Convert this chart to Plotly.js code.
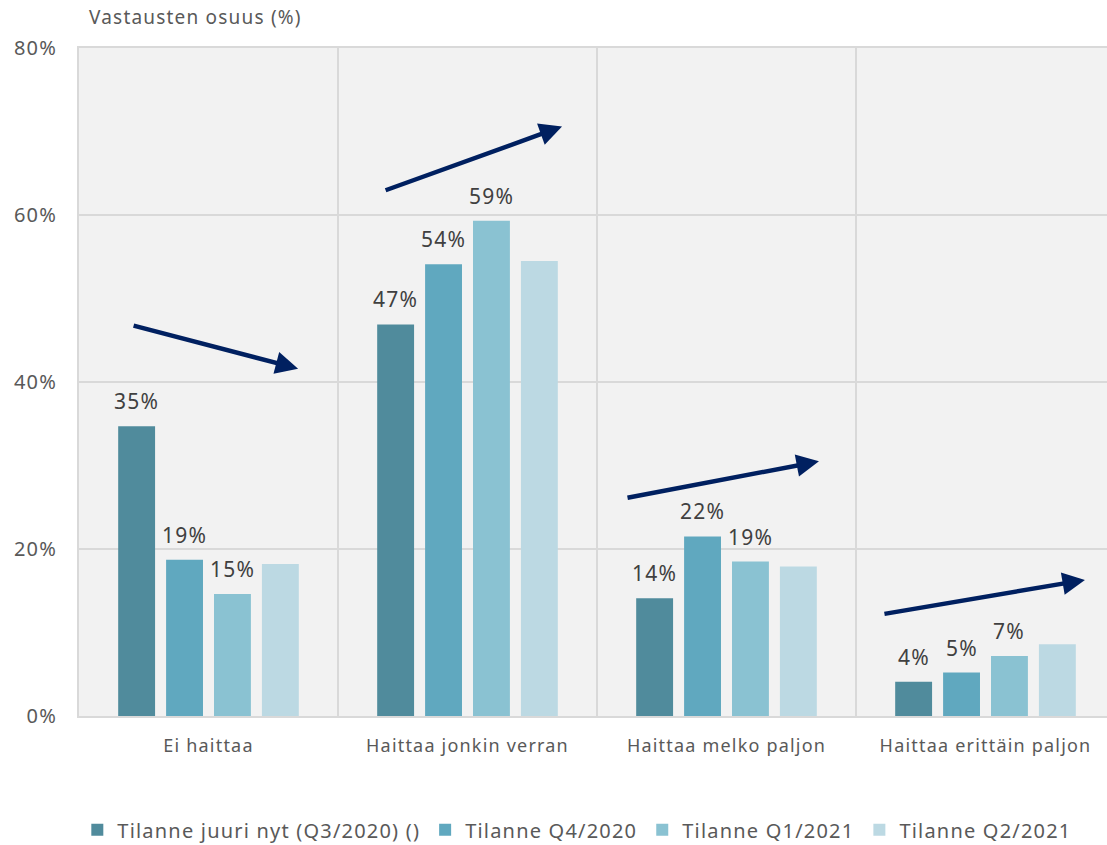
<!DOCTYPE html>
<html>
<head>
<meta charset="utf-8">
<script src="https://cdn.plot.ly/plotly-3.0.1.min.js"></script>
<style>
  html, body { margin: 0; padding: 0; overflow: hidden; background: #ffffff; }
  #chart { width: 1120px; height: 845px; }
  svg text { letter-spacing: 1.2px; }
</style>
</head>
<body>
<div id="chart"></div>
<script>
// ---- Data ----
var categories = ["Ei haittaa", "Haittaa jonkin verran", "Haittaa melko paljon", "Haittaa erittäin paljon"];
var seriesNames = ["Tilanne juuri nyt (Q3/2020) ()", "Tilanne Q4/2020", "Tilanne Q1/2021", "Tilanne Q2/2021"];
var q3_2020 = [34.7, 46.9, 14.1, 4.1];
var q4_2020 = [18.7, 54.1, 21.5, 5.2];
var q1_2021 = [14.6, 59.3, 18.5, 7.2];
var q2_2021 = [18.2, 54.5, 17.9, 8.6];
var labels_q3_2020 = ["35%", "47%", "14%", "4%"];
var labels_q4_2020 = ["19%", "54%", "22%", "5%"];
var labels_q1_2021 = ["15%", "59%", "19%", "7%"];
var labels_q2_2021 = ["", "", "", ""];
var yTickVals = [0, 20, 40, 60, 80];
var yTickText = ["0%", "20%", "40%", "60%", "80%"];
var yTitle = "Vastausten osuus (%)";

// ---- Styling ----
var colors = ["#508b9c", "#60a8bf", "#8ac2d2", "#bcd9e3"];
var FONT = "Noto Sans, Lato, sans-serif";
var BARGAP = 0.26;
var allValues = [q3_2020, q4_2020, q1_2021, q2_2021];
var allLabels = [labels_q3_2020, labels_q4_2020, labels_q1_2021, labels_q2_2021];

var traces = allValues.map(function (vals, i) {
  return {
    type: "bar",
    name: seriesNames[i],
    x: categories,
    y: vals,
    marker: { color: colors[i] },
    hoverinfo: "skip"
  };
});

// data labels above bars (positioned in data coordinates via axis scales)
var annotations = [];
var slot = (1 - BARGAP) / allValues.length;
allValues.forEach(function (vals, i) {
  vals.forEach(function (v, c) {
    if (!allLabels[i][c]) return;
    annotations.push({
      x: c + (i - (allValues.length - 1) / 2) * slot,
      y: v,
      xref: "x", yref: "y",
      text: allLabels[i][c],
      showarrow: false,
      yanchor: "bottom",
      yshift: 9,
      font: { family: FONT, size: 21, color: "#404040" }
    });
  });
});

// trend arrows (decorations)
var arrows = [
  { tail: [-0.295, 46.8], head: [0.346, 41.6] },
  { tail: [0.678, 62.9], head: [1.365, 70.6] },
  { tail: [1.612, 26.1], head: [2.357, 30.5] },
  { tail: [2.604, 12.2], head: [3.384, 16.3] }
];
arrows.forEach(function (a) {
  annotations.push({
    x: a.head[0], y: a.head[1], ax: a.tail[0], ay: a.tail[1],
    xref: "x", yref: "y", axref: "x", ayref: "y",
    text: "", showarrow: true,
    arrowhead: 2, arrowsize: 1, arrowwidth: 4.5,
    arrowcolor: "#002060", standoff: 0, startstandoff: 0
  });
});

// y-axis title at top-left
annotations.push({
  xref: "paper", yref: "paper", x: 0, y: 1,
  xanchor: "left", yanchor: "bottom", xshift: 8, yshift: 16,
  text: yTitle, showarrow: false,
  font: { family: FONT, size: 19, color: "#595959" }
});

var layout = {
  width: 1120,
  height: 845,
  margin: { l: 79, r: 5, t: 48, b: 129, autoexpand: false },
  paper_bgcolor: "#ffffff",
  plot_bgcolor: "#f2f2f2",
  barmode: "group",
  bargap: BARGAP,
  bargroupgap: 0.23,
  font: { family: FONT, size: 18, color: "#595959" },
  xaxis: {
    type: "category",
    tickson: "boundaries",
    showgrid: true,
    gridcolor: "#d9d9d9",
    gridwidth: 2,
    ticks: "",
    showline: true,
    linecolor: "#d9d9d9",
    linewidth: 2,
    mirror: true,
    ticklabelstandoff: 12,
    tickfont: { family: FONT, size: 18, color: "#595959" },
    fixedrange: true
  },
  yaxis: {
    range: [0, 80],
    tickvals: yTickVals,
    ticktext: yTickText,
    showgrid: true,
    gridcolor: "#d9d9d9",
    gridwidth: 2,
    zeroline: false,
    showline: true,
    linecolor: "#d9d9d9",
    linewidth: 2,
    mirror: true,
    ticks: "",
    ticklabelstandoff: 16,
    tickfont: { family: FONT, size: 20, color: "#595959" },
    fixedrange: true
  },
  showlegend: true,
  legend: {
    orientation: "h",
    x: 0.481, xanchor: "center",
    yref: "container",
    y: 0.018, yanchor: "middle",
    font: { family: FONT, size: 20, color: "#595959" },
    itemclick: false, itemdoubleclick: false
  },
  annotations: annotations
};

Plotly.newPlot("chart", traces, layout, { displayModeBar: false, staticPlot: true });
</script>
</body>
</html>
